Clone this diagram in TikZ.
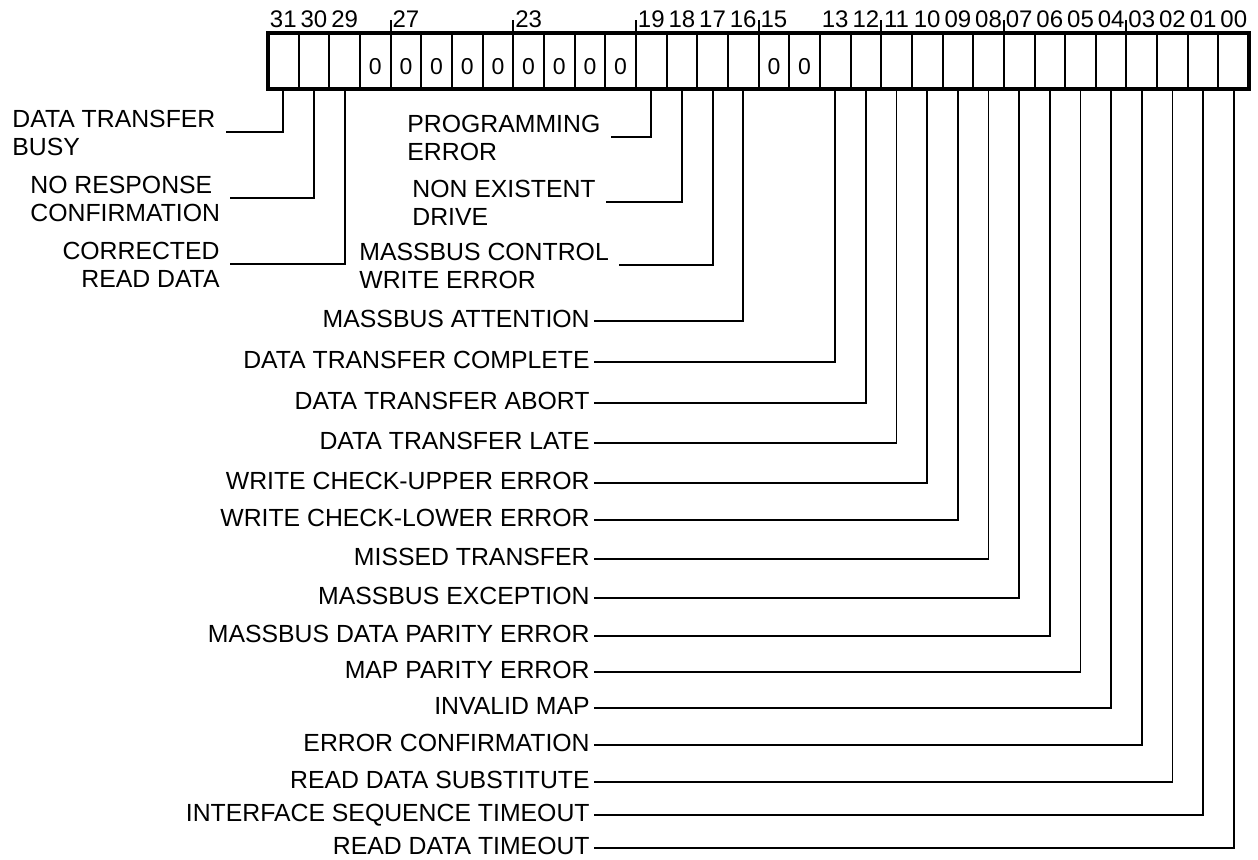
\documentclass[tikz,border=0pt]{standalone}
\usepackage{fontspec}
\setmainfont{Liberation Sans}
\usepackage{tikz}
\usetikzlibrary{positioning}

\begin{document}
\begin{tikzpicture}[x=0.5pt, y=-0.5pt,
    cell/.style={draw, line width=1pt, minimum width=15.33pt, minimum height=28pt, inner sep=0pt, outer sep=0pt},
    zero/.style={font=\fontsize{11.5}{13}\selectfont, inner sep=0pt},
    bitno/.style={font=\fontsize{12}{14}\selectfont, inner sep=0pt, anchor=base},
    desc/.style={font=\fontsize{12.4}{14}\selectfont, anchor=east, inner xsep=2pt, inner ysep=0pt, text height=6pt, text depth=0pt},
    desc2/.style={font=\fontsize{12.4}{14}\selectfont, inner xsep=5pt, inner ysep=0pt},
    lead/.style={line width=0.95pt}]
    \useasboundingbox (0,0) rectangle (1258,859);

    % Register, bit 31 on the left
    \foreach \b in {0,...,31}
        \node[cell] (b\b) at ({268+(31.5-\b)*30.66}, 61) {};
    \draw[line width=1.8pt] (b31.north west) rectangle (b0.south east);

    % Ticks above the register
    \foreach \b in {27,23,19,15,11,7,3}
        \draw[line width=1pt] (b\b.north west) -- ++(0,-13);

    % Bit numbers
    \foreach \b/\t in {31/31,30/30,29/29,27/27,23/23,19/19,18/18,17/17,16/16,15/15,13/13,12/12,
                       11/11,10/10,9/09,8/08,7/07,6/06,5/05,4/04,3/03,2/02,1/01,0/00}
        \node[bitno] (n\b) at ([yshift=3pt]b\b.north) {\t};

    % Unused bits read as zero
    \foreach \b in {28,27,...,20,15,14}
        \node[zero] (z\b) at ([yshift=-3pt]b\b.center) {0};

    % Two-line labels
    \node[desc2, anchor=north west, align=left] (l31) at (2,110) {DATA TRANSFER\\BUSY};
    \node[desc2, anchor=north west, align=left] (l30) at (20,176) {NO RESPONSE\\CONFIRMATION};
    \node[desc2, anchor=north east, align=right] (l29) at (230,242) {CORRECTED\\READ DATA};
    \node[desc2, anchor=north west, align=left] (l19) at (397,115) {PROGRAMMING\\ERROR};
    \node[desc2, anchor=north west, align=left] (l18) at (402,180) {NON EXISTENT\\DRIVE};
    \node[desc2, anchor=north west, align=left] (l17) at (349,243) {MASSBUS CONTROL\\WRITE ERROR};
    \foreach \b in {31,30,29,19,18,17}
        \draw[lead] (b\b.south) |- ([yshift=-11pt]l\b.north east);

    % One-line labels
    \foreach \b/\y/\t in {16/321/MASSBUS ATTENTION,
                          13/362/DATA TRANSFER COMPLETE,
                          12/403/DATA TRANSFER ABORT,
                          11/443/DATA TRANSFER LATE,
                          10/483/WRITE CHECK-UPPER ERROR,
                          9/520/WRITE CHECK-LOWER ERROR,
                          8/559/MISSED TRANSFER,
                          7/598/MASSBUS EXCEPTION,
                          6/636/MASSBUS DATA PARITY ERROR,
                          5/672/MAP PARITY ERROR,
                          4/708/INVALID MAP,
                          3/745/ERROR CONFIRMATION,
                          2/782/READ DATA SUBSTITUTE,
                          1/815/INTERFACE SEQUENCE TIMEOUT,
                          0/848/READ DATA TIMEOUT} {
        \node[desc] (l\b) at (594,\y) {\t};
        \draw[lead] (b\b.south) |- (l\b.east);
    }
\end{tikzpicture}
\end{document}
